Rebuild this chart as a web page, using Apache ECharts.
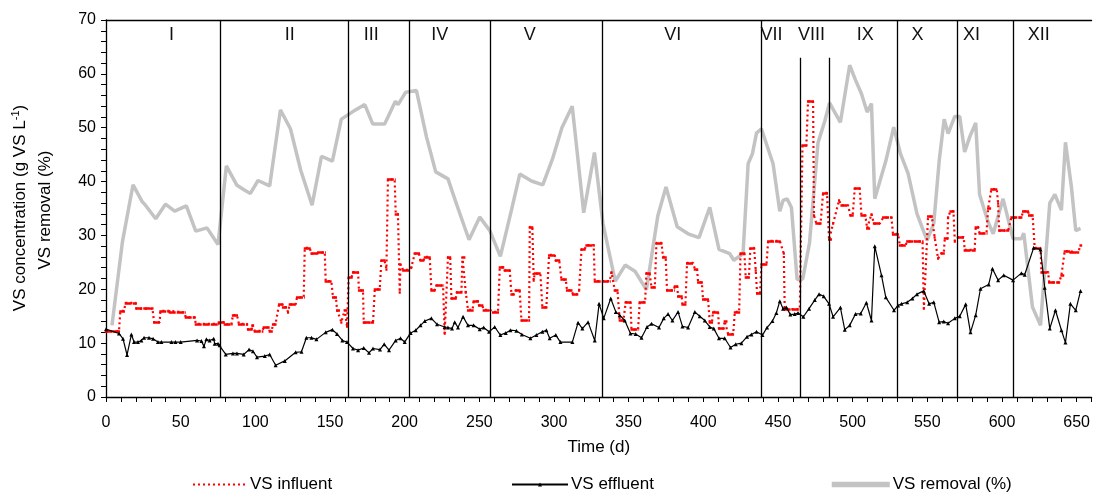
<!DOCTYPE html>
<html>
<head>
<meta charset="utf-8">
<script src="https://cdn.jsdelivr.net/npm/echarts@6/dist/echarts.min.js"></script>
<style>
  html, body { margin: 0; padding: 0; background: #fff; }
  #chart { width: 1093px; height: 495px; }
</style>
</head>
<body>
<div id="chart"></div>
<script>
// Influent VS: each entry is one feeding level [first day, last day, g VS/L]
const influentSteps = [
  [0, 8.7, 12.2], [9.6, 12, 16.0], [13.2, 19.9, 17.5], [20.3, 31.1, 16.4], [32.2, 36.0, 13.9],
  [36.4, 42.5, 16.0], [42.7, 52.7, 15.7], [53.4, 59.4, 14.8], [60.1, 75, 13.6], [75.5, 78.8, 13.9],
  [79.5, 84, 13.5], [85, 87.7, 15.2], [89, 94.4, 13.6], [95.1, 97.5, 12.5], [98, 98.5, 13.4],
  [99.6, 104.7, 12.3], [105.6, 109.2, 12.9], [109.6, 111, 12.3], [111.8, 113.5, 13.5],
  [115.9, 118.1, 17.2], [118.5, 120.5, 16.7], [121.9, 121.9, 15.8], [123, 127, 17.2],
  [127.9, 132.4, 18.5], [133.1, 136.4, 27.7], [137.6, 140.9, 26.6], [142, 146.5, 26.9],
  [147.1, 150.9, 21.5], [152, 154, 18.5], [154.7, 156, 16.2], [157.6, 157.6, 13.9],
  [159.9, 161, 16.2], [161.4, 161.4, 13.1], [162.5, 164.5, 22.3], [165.4, 168.8, 23.2],
  [169.4, 172.1, 19.8], [172.6, 178.8, 13.8], [180, 183.3, 20.0], [184.4, 186.5, 25.3],
  [187.8, 187.8, 23.8], [188.8, 193.3, 40.4], [194, 195.5, 34.0], [196.7, 196.7, 19.5],
  [197.2, 197.2, 24.6], [199, 203, 23.6], [204.5, 204.5, 24.1], [206.7, 209.6, 26.6],
  [210.6, 212.5, 25.3], [213.5, 216.8, 26.0], [217.9, 220, 19.8], [221.3, 225.7, 20.7],
  [226.8, 226.8, 11.8], [229, 230.5, 26.0], [231.3, 234.2, 18.3], [235, 238, 19.5],
  [238.7, 240, 26.0], [240.9, 240.9, 19.5], [242.4, 245.5, 16.2], [246.2, 249.1, 17.8],
  [249.8, 252, 17.0], [252.9, 257, 16.2], [259.2, 262.5, 15.8], [263.7, 266, 24.1],
  [267, 270.4, 23.5], [271.5, 273, 19.1], [274.4, 277, 19.8], [278.2, 283.3, 14.2],
  [283.8, 285.5, 31.6], [286.4, 286.4, 21.7], [287.1, 290.9, 22.9], [292.2, 294.9, 16.7],
  [296.7, 300.5, 26.4], [301.2, 303.5, 25.3], [305, 307.9, 21.8], [308.7, 311.7, 19.8],
  [312.7, 315.5, 19.1], [316.8, 316.8, 19.8], [318.4, 320.5, 27.4], [321.7, 326.6, 28.2],
  [327.3, 337.3, 21.5], [338.5, 338.5, 23.2], [340.7, 342.5, 19.8], [344, 346.5, 14.2],
  [348, 351.2, 17.6], [351.9, 356.3, 12.5], [357.4, 361, 17.6], [361.9, 364, 23.0],
  [365.3, 367.5, 20.4], [368.6, 372, 28.6], [373, 374.8, 26.0], [375.7, 380.2, 19.8],
  [380.9, 382.5, 20.6], [383.1, 385.5, 18.7], [386, 388, 17.3], [389.1, 393.1, 24.9],
  [394.3, 395.8, 23.8], [396.5, 399, 21.3], [399.8, 403.2, 18.1], [404.3, 405.8, 13.9],
  [406.5, 409.9, 15.8], [410.5, 413.5, 12.7], [414.3, 415.5, 14.1], [416.6, 420, 11.7],
  [421.1, 424, 15.8], [424.9, 427.5, 26.6], [428.4, 430.5, 22.2], [431.5, 434, 27.7],
  [435.1, 435.1, 23.5], [436, 438, 19.2], [438.9, 442.3, 24.6], [443.4, 451.2, 29.0],
  [453.9, 453.9, 26.6], [454.5, 464.6, 16.3], [466.4, 469, 46.7], [470.1, 473.5, 54.9],
  [474.1, 474.1, 33.7], [475.7, 478.5, 32.2], [480.2, 482.8, 37.9], [484.2, 485.5, 29.2],
  [486.9, 486.9, 32.2], [490.9, 490.9, 36.5], [492.5, 496.9, 35.6], [498.5, 500, 33.7],
  [501.4, 504.7, 38.7], [505.9, 508.5, 33.7], [509.7, 511, 31.3], [512.6, 512.6, 34.0],
  [514.2, 518.2, 32.2], [520.4, 526, 33.3], [527, 530.4, 30.3], [531.6, 535.5, 28.2],
  [536.5, 546.8, 28.9], [547.7, 547.7, 16.4], [550.5, 553, 33.5], [554.9, 554.9, 29.7],
  [557.2, 557.2, 25.7], [559.5, 561, 26.7], [561.7, 563.5, 29.4], [563.9, 563.9, 33.4],
  [565.5, 567.5, 34.5], [568.4, 568.4, 29.0], [570.6, 574.4, 29.7], [575, 581.7, 27.3],
  [582.4, 584, 31.6], [585, 589.6, 30.4], [590.7, 592, 35.0], [592.9, 596.5, 38.6],
  [597.4, 597.4, 36.0], [598.1, 604.1, 30.9], [606.3, 613, 33.3], [614.1, 617.5, 34.5],
  [618.1, 620.5, 33.7], [621.9, 625.8, 27.7], [626.4, 630.9, 23.2], [631.6, 638.3, 21.3],
  [639.8, 641, 22.6], [642, 645, 27.1], [645.8, 651, 26.8], [652.6, 653, 28.2]
];

// Effluent VS [day, g VS/L]
const effluent = [
  [0, 12.6], [8.7, 11.8], [11.4, 10.8], [14.1, 7.8], [17, 11.6], [18.8, 10.2], [21.4, 10.2],
  [23.7, 10.5], [25.5, 11], [28.8, 11], [31.5, 10.8], [34.8, 10.2], [37.1, 10.2], [43.8, 10.2],
  [46.5, 10.2], [50, 10.2], [61, 10.5], [63.9, 10.4], [65.6, 9.4], [67.2, 10.7], [69.4, 10.5],
  [72.1, 10.8], [72.8, 9.9], [75, 9.9], [76.1, 9.6], [80.2, 7.9], [85, 8.1], [87.7, 8.1],
  [92.2, 7.9], [95.8, 8.8], [98.4, 8.5], [101.1, 7.4], [106.3, 7.6], [109.6, 7.9], [113.6, 5.9],
  [119.7, 6.7], [127, 8.3], [130.9, 8.4], [134.2, 11], [137.6, 11], [140.9, 10.7], [147.1, 12],
  [151.6, 12.5], [154.7, 11.7], [158.3, 10.5], [161.4, 10.2], [165.4, 9], [168.8, 8.7],
  [172.6, 9.1], [176.1, 8.2], [178.8, 9], [183.5, 8.8], [186.3, 9.8], [189.5, 8.7], [194, 10.5],
  [197.2, 10.9], [200, 10.2], [204, 11.9], [207.4, 12.4], [210.6, 13.3], [213.5, 14.1],
  [217.9, 14.6], [221.7, 13.5], [226.8, 13], [229, 12.9], [231.7, 12.7], [233.5, 13.9],
  [235.7, 12.9], [239.1, 14.9], [242.4, 13.3], [246.2, 13.3], [250.3, 12.6], [252.9, 12.9],
  [256.5, 12.1], [260.3, 13], [264.1, 11.5], [267.7, 11.9], [270.8, 12.4], [274.8, 12.3],
  [278.5, 11.6], [284.2, 10.9], [288.2, 11.5], [292.2, 12.1], [294.9, 12.4], [297.1, 10.9],
  [301.2, 11.5], [304.3, 10.2], [312.3, 10.2], [316.1, 13.8], [319, 12.7], [322.8, 13.9],
  [327.3, 10.5], [330.2, 17.3], [333.3, 14.6], [338, 18.3], [341.4, 15.8], [344, 15.2],
  [347.4, 14.2], [351.2, 11.8], [354.7, 11.7], [358.6, 11], [362.3, 13], [365.3, 13.6],
  [370.3, 12.9], [373.5, 14.6], [376.4, 15.4], [379.3, 14.2], [383.1, 15.8], [386, 13.1],
  [389.8, 12.9], [394.3, 15.8], [397.6, 15], [401, 14.2], [404.3, 13], [407, 12.7],
  [410.5, 10.9], [414.3, 10.9], [418.2, 9.2], [421.7, 9.8], [425.5, 10], [429.3, 11.2],
  [432.2, 11.6], [435.6, 12.1], [439.6, 11.5], [442.7, 12.9], [446.3, 14.1], [448.9, 15.6],
  [451.2, 17.8], [453.4, 16.4], [455.7, 16.6], [458.3, 15.3], [461.2, 15.4], [463.4, 15.6],
  [467, 14.9], [470.8, 16.4], [474.6, 18], [477.5, 19.1], [480.6, 18.7], [484.2, 17.3],
  [486.9, 14.9], [491.8, 16.6], [494.7, 12.5], [498, 13.3], [501.9, 15.4], [505.4, 15.5],
  [509.2, 17.5], [512.6, 14.2], [514.8, 28], [519.3, 22.6], [522.2, 18.5], [527.7, 16.1],
  [530.4, 17], [532.7, 17.3], [536.5, 17.6], [540, 18.3], [543.1, 19.1], [547.6, 19.7],
  [551.2, 17.3], [554.3, 17.6], [557.9, 13.9], [561, 14], [563.9, 13.7], [568.4, 14.6],
  [571.7, 15], [575.7, 17.2], [578.9, 12], [582.4, 15.2], [585.6, 20.1], [591.1, 20.9],
  [593.6, 23.8], [597.4, 21.7], [601.2, 22.6], [607.4, 21.7], [613, 23], [615.2, 22.7],
  [621.2, 27.7], [625.8, 27.4], [628.6, 20.3], [632, 12.7], [635.8, 16.1], [639.8, 12.4],
  [642.5, 10.1], [645.8, 17.3], [649.4, 16.1], [652.6, 19.7]
];

// VS removal [day, %]
const removal = [
  [4, 13.3], [11, 28.8], [18.1, 39.4], [24.4, 36.2], [25.9, 35.8], [33.3, 33.1], [39.8, 35.8],
  [46, 34.5], [53.8, 35.5], [60.1, 30.8], [67.6, 31.4], [75, 28.3], [80.6, 42.9], [87.7, 39.3],
  [92.9, 38.4], [96.7, 37.8], [101.8, 40.2], [109.6, 39.2], [116.8, 53.3], [123.5, 49.8],
  [130.4, 42.1], [138, 35.6], [144.3, 44.7], [151.6, 43.8], [157.6, 51.6], [164.8, 52.9],
  [173.3, 54.3], [178.6, 50.7], [186.6, 50.7], [193.8, 54.9], [195.6, 54.3], [200.7, 56.6],
  [207.9, 56.9], [214.6, 48.3], [220.8, 41.8], [229, 40.5], [235, 35.6], [243.1, 29.2],
  [250.3, 33.4], [257, 30.9], [264.1, 26.1], [271.5, 34.7], [277.1, 41.4], [284.9, 40.1],
  [292.5, 39.4], [299, 44.2], [305.3, 50], [312.2, 54], [319.9, 34.2], [327.1, 45.4],
  [332.8, 32.2], [341, 21.5], [347.7, 24.5], [354.4, 23.3], [361.9, 19.9], [369.5, 33.6],
  [375, 39], [382.5, 31.6], [389.8, 30.3], [397.1, 29.6], [404.3, 35.2], [410.5, 27.4],
  [417.7, 26.6], [420.4, 25.4], [426.6, 26.6], [430, 43.3], [432.9, 45.2], [435.6, 49],
  [438.9, 49.8], [446.7, 43.3], [451.2, 34.5], [453.4, 36.5], [456.1, 36.8], [459, 35.2],
  [462.8, 21.8], [466.6, 21.9], [471.1, 28.6], [476.8, 47.2], [481.3, 51.2], [484.5, 54.6],
  [491.8, 51], [498, 61.6], [502, 58.8], [505.9, 56.3], [509.7, 52.9], [512.6, 54.5],
  [514.8, 36.8], [522.2, 43.8], [527.5, 50.1], [532, 45.2], [537.1, 41.5], [543.1, 34],
  [549.8, 29.1], [554.3, 32.2], [558, 44], [561.3, 51.6], [563.9, 48.9], [568.4, 52.1],
  [571.7, 52.1], [575, 45.5], [578.4, 48.3], [582.4, 50.9], [585, 37.6], [590.7, 32.5],
  [594.1, 30.3], [600.7, 36.8], [607.4, 29.4], [613, 29.4], [614.6, 30.4], [620.4, 16.7],
  [625.8, 13.3], [632, 36], [635.4, 37.6], [639.8, 34.7], [642.5, 47.3], [646.5, 39],
  [649.4, 30.9], [652.6, 31.3]
];

// Operating phases
const phaseBounds = [76.3, 162, 203, 257.5, 332, 438.5, 465, 484.3, 530, 570, 607.5];
const phaseBoundTops = [70, 70, 70, 70, 70, 70, 63, 63, 70, 70, 70];
const phaseNames = ['I', 'II', 'III', 'IV', 'V', 'VI', 'VII', 'VIII', 'IX', 'X', 'XI', 'XII'];
const phaseLabelDays = [43.8, 123.1, 177.7, 223.5, 283.8, 379.5, 445.6, 472.4, 508.5, 543.4, 579.6, 624.6];
const phaseLabelLevel = 67.3;

// Axis ranges
const xRange = [0, 660];
const xStep = 50;
const yRange = [0, 70];
const yStep = 10;

const FONT = 'Liberation Sans, Arial, sans-serif';

const influentPath = influentSteps.flatMap(([s, e, v]) => [[s, v], [e, v]]);
const influentBars = influentSteps.map(([s, e, v]) => ({ coords: [[s - 0.7, v], [e + 0.7, v]] }));
const boundaryLines = phaseBounds.map((d, i) => ({ coords: [[d, yRange[0]], [d, phaseBoundTops[i]]] }));
const phaseLabels = phaseNames.map((n, i) => ({ name: n, value: [phaseLabelDays[i], phaseLabelLevel] }));

const chart = echarts.init(document.getElementById('chart'));

const legendBase = {
  orient: 'horizontal',
  top: 476,
  padding: 0,
  itemHeight: 12,
  itemGap: 0,
  textStyle: { fontFamily: FONT, fontSize: 17, color: '#000', padding: [0, 0, 0, -2] }
};

chart.setOption({
  animation: false,
  backgroundColor: '#fff',
  textStyle: { fontFamily: FONT },
  grid: { left: 106, right: 1, top: 20, bottom: 98 },
  legend: [
    Object.assign({}, legendBase, {
      left: 192, itemWidth: 54,
      data: [{ name: 'VS influent', itemStyle: { opacity: 0 } }]
    }),
    Object.assign({}, legendBase, {
      left: 511, itemWidth: 56, itemHeight: 5,
      data: ['VS effluent']
    }),
    Object.assign({}, legendBase, {
      left: 829, itemWidth: 58,
      data: [{ name: 'VS removal (%)', itemStyle: { opacity: 0 }, lineStyle: { width: 5.5 } }]
    })
  ],
  xAxis: [
    {
      type: 'value', min: xRange[0], max: xRange[1], interval: xStep,
      name: 'Time (d)', nameLocation: 'middle', nameGap: 42,
      nameTextStyle: { fontFamily: FONT, fontSize: 17, color: '#000' },
      axisLine: { show: true, onZero: false, lineStyle: { color: '#000', width: 1.3 } },
      axisTick: { show: true, inside: false, length: 5, lineStyle: { color: '#000', width: 1 } },
      minorTick: { show: true, splitNumber: 5, length: 5, lineStyle: { color: '#000', width: 1 } },
      axisLabel: { fontFamily: FONT, fontSize: 16, color: '#000', margin: 18 },
      splitLine: { show: false }
    },
    {
      type: 'value', position: 'top', min: xRange[0], max: xRange[1],
      axisLine: { show: true, onZero: false, lineStyle: { color: '#000', width: 1.3 } },
      axisTick: { show: false }, axisLabel: { show: false }, splitLine: { show: false }
    }
  ],
  yAxis: {
    type: 'value', min: yRange[0], max: yRange[1], interval: yStep,
    axisLine: { show: true, onZero: false, lineStyle: { color: '#000', width: 1.3 } },
    axisTick: { show: true, inside: false, length: 5, lineStyle: { color: '#000', width: 1 } },
    minorTick: { show: true, splitNumber: 5, length: 5, lineStyle: { color: '#000', width: 1 } },
    axisLabel: { fontFamily: FONT, fontSize: 16, color: '#000', margin: 10 },
    splitLine: { show: false }
  },
  graphic: [
    {
      type: 'text', x: 20, y: 208, rotation: Math.PI / 2,
      style: {
        text: 'VS concentration (g VS L{sup|-1})',
        rich: { sup: { fontSize: 11, fontFamily: FONT, fill: '#000', padding: [0, 0, 9, 0] } },
        fontFamily: FONT, fontSize: 17, fill: '#000', align: 'center', verticalAlign: 'middle'
      }
    },
    {
      type: 'text', x: 45, y: 210, rotation: Math.PI / 2,
      style: {
        text: 'VS removal (%)',
        fontFamily: FONT, fontSize: 17, fill: '#000', align: 'center', verticalAlign: 'middle'
      }
    }
  ],
  series: [
    {
      name: 'VS removal (%)', type: 'line', data: removal, z: 1,
      symbol: 'none', smooth: false,
      lineStyle: { color: '#c3c3c3', width: 3.5 },
      itemStyle: { color: '#c3c3c3' }
    },
    {
      name: 'VS influent', type: 'line', data: influentPath, z: 2,
      symbol: 'none',
      lineStyle: { color: '#ff0000', width: 2.2, type: [2, 3] },
      itemStyle: { color: '#ff0000' }
    },
    {
      name: 'influent levels', type: 'lines', coordinateSystem: 'cartesian2d', z: 2,
      data: influentBars, polyline: false, silent: true,
      lineStyle: { color: '#ff0000', width: 2.6, opacity: 1, type: [7, 1] }
    },
    {
      name: 'VS effluent', type: 'line', data: effluent, z: 3,
      symbol: 'triangle', symbolSize: 4, showAllSymbol: true,
      lineStyle: { color: '#000', width: 1.2 },
      itemStyle: { color: '#000' }
    },
    {
      name: 'phase bounds', type: 'lines', coordinateSystem: 'cartesian2d', z: 4,
      data: boundaryLines, silent: true,
      lineStyle: { color: '#000', width: 1.3, opacity: 1 }
    },
    {
      name: 'phase names', type: 'scatter', data: phaseLabels, z: 5,
      symbolSize: 1, itemStyle: { color: 'rgba(0,0,0,0)' }, silent: true,
      label: {
        show: true, position: 'inside', formatter: '{b}',
        fontFamily: FONT, fontSize: 18, color: '#111', opacity: 1, textBorderWidth: 0
      }
    }
  ]
});
</script>
</body>
</html>
